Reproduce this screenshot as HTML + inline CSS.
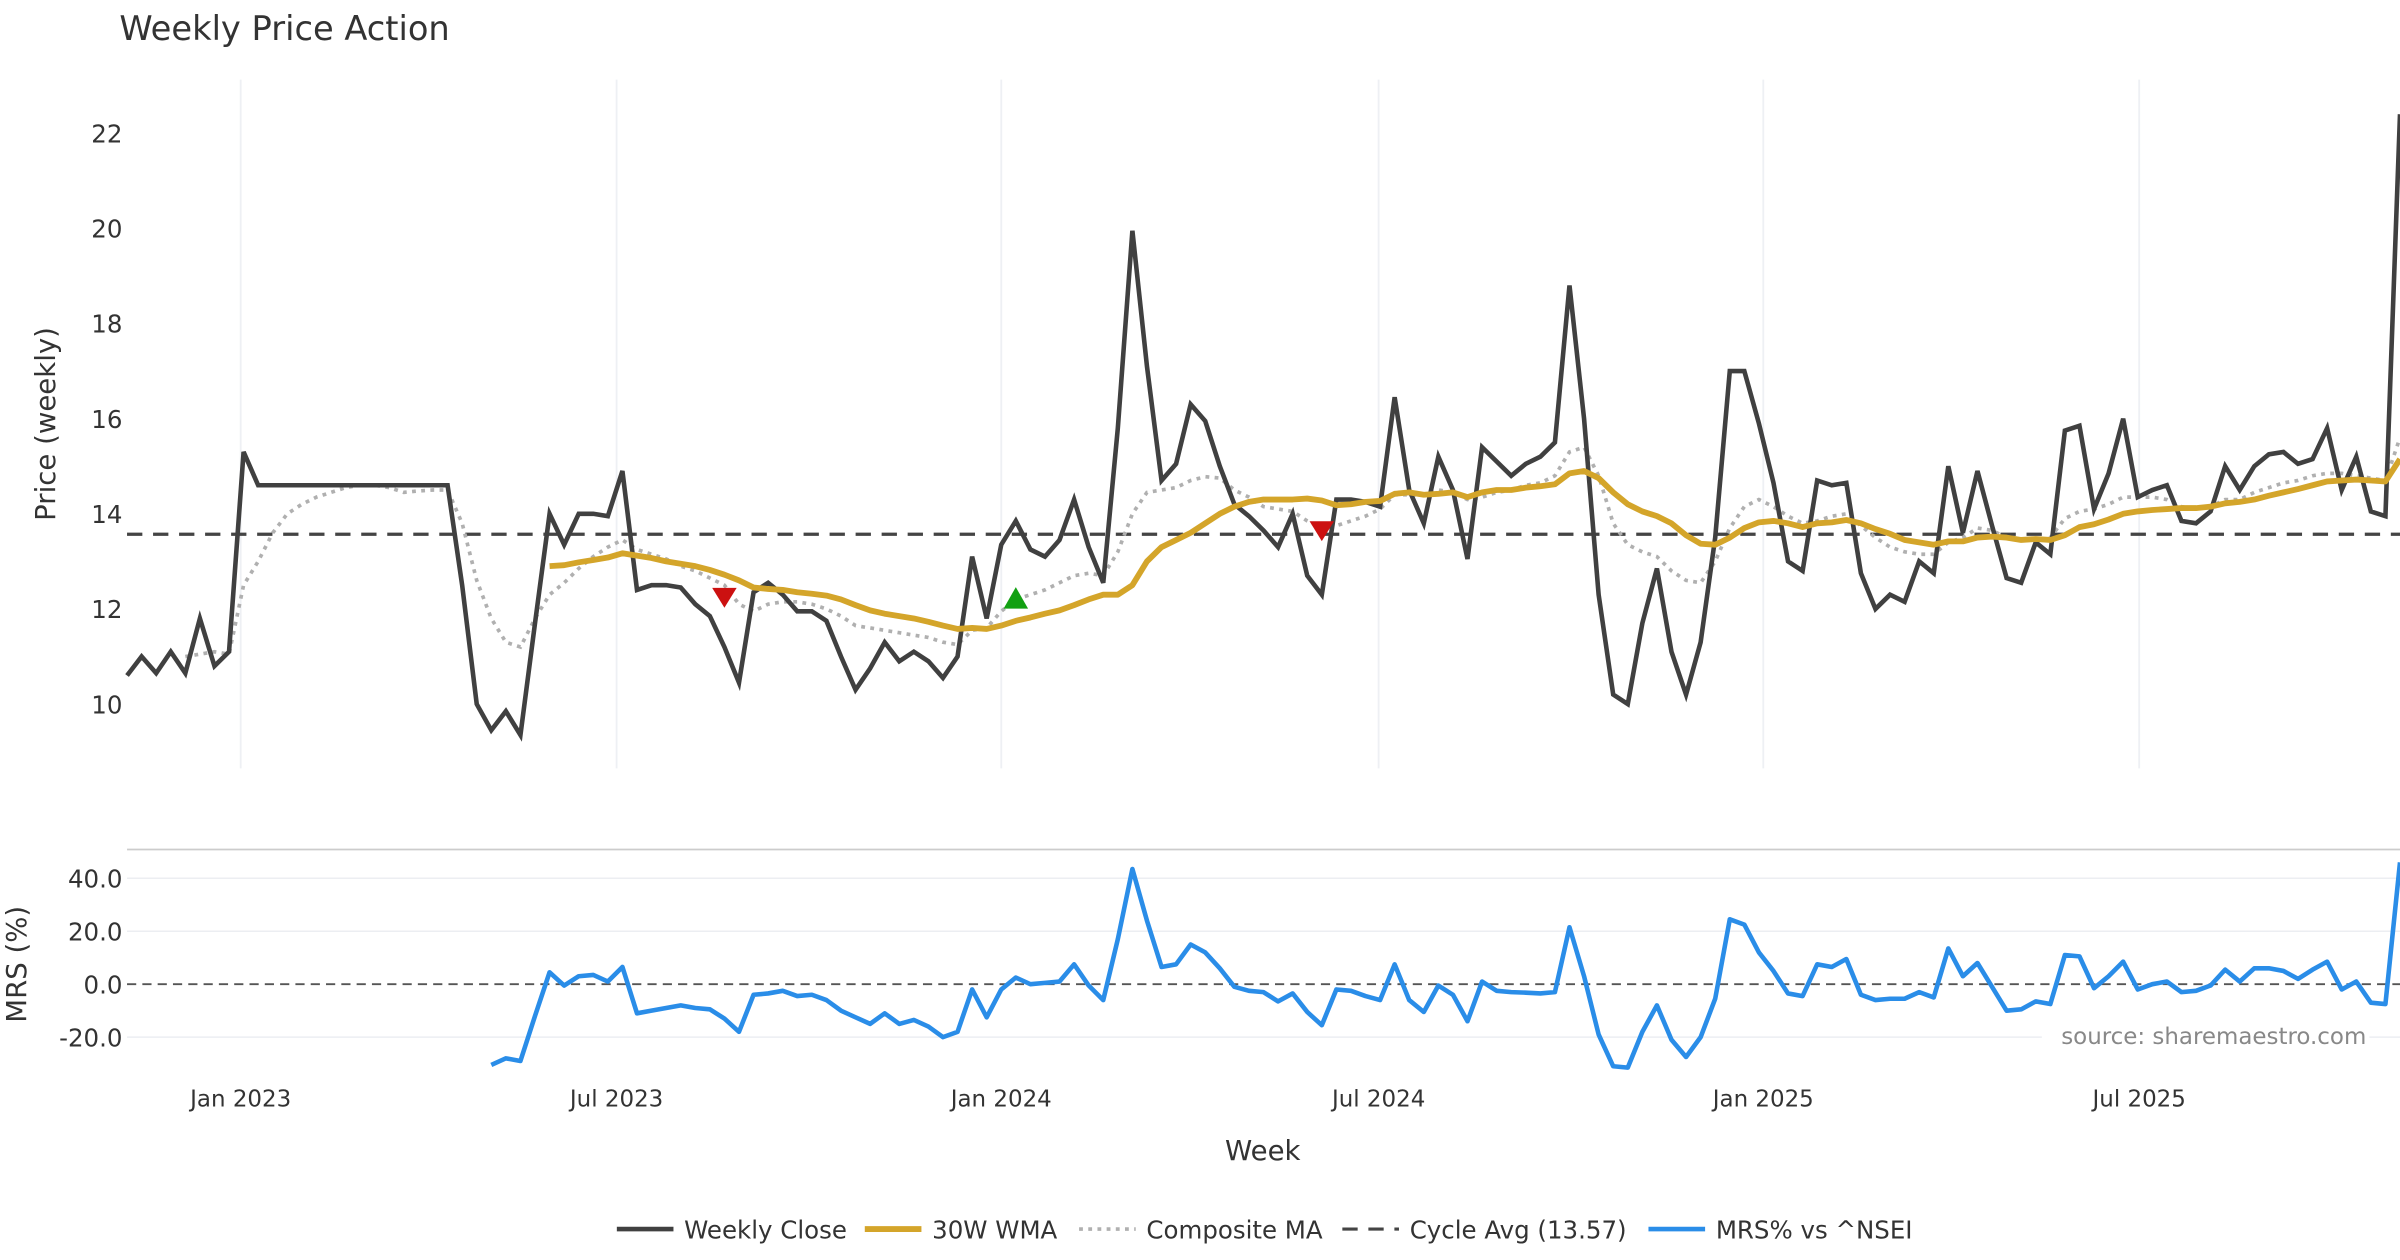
<!DOCTYPE html>
<html><head><meta charset="utf-8"><style>
html,body{margin:0;padding:0;background:#fff;}
svg{display:block;font-family:"DejaVu Sans","Liberation Sans",sans-serif;}
</style></head><body>
<svg id="chart" width="2400" height="1260" viewBox="0 0 1568 823.2" xmlns="http://www.w3.org/2000/svg">
<rect width="1568" height="823.2" fill="#fff"/>
<text x="78" y="26" font-size="22" fill="#333">Weekly Price Action</text>
<text transform="translate(36,277) rotate(-90)" text-anchor="middle" font-size="18" fill="#333">Price (weekly)</text>
<text transform="translate(17,630) rotate(-90)" text-anchor="middle" font-size="18" fill="#333">MRS (%)</text>
<text x="825" y="758" text-anchor="middle" font-size="18" fill="#333">Week</text>
<g id="grid"></g><g id="main"></g><g id="mrs"></g><g id="legend"></g>
<rect x="1334" y="666" width="214" height="20" fill="#fff"/>
<text x="1546" y="682" text-anchor="end" font-size="15" fill="#888">source: sharemaestro.com</text>
</svg>
<script>
const closeVals=[10.6,11.0,10.65,11.1,10.65,11.8,10.8,11.1,15.3,14.6,14.6,14.6,14.6,14.6,14.6,14.6,14.6,14.6,14.6,14.6,14.6,14.6,14.6,12.5,10.0,9.45,9.85,9.35,11.7,14.0,13.35,14.0,14.0,13.95,14.9,12.4,12.5,12.5,12.45,12.1,11.85,11.2,10.45,12.35,12.55,12.3,11.95,11.95,11.75,11.0,10.3,10.75,11.3,10.9,11.1,10.9,10.55,11.0,13.1,11.8,13.35,13.85,13.25,13.1,13.45,14.3,13.3,12.55,15.8,19.95,17.1,14.7,15.05,16.3,15.95,15.0,14.2,13.95,13.65,13.3,14.0,12.7,12.3,14.3,14.3,14.25,14.15,16.45,14.5,13.8,15.2,14.5,13.05,15.4,15.1,14.8,15.05,15.2,15.5,18.8,16.0,12.3,10.2,10.0,11.7,12.85,11.1,10.2,11.3,13.5,17.0,17.0,15.9,14.65,13.0,12.8,14.7,14.6,14.65,12.75,12.0,12.3,12.15,13.0,12.75,15.0,13.6,14.9,13.75,12.65,12.55,13.4,13.15,15.75,15.85,14.1,14.85,16.0,14.35,14.5,14.6,13.85,13.8,14.05,15.0,14.5,15.0,15.25,15.3,15.05,15.15,15.8,14.5,15.2,14.05,13.95,22.4];
const wmaStart=29;
const wmaVals=[12.9,12.92,12.98,13.03,13.08,13.17,13.12,13.07,13.0,12.95,12.9,12.82,12.72,12.6,12.45,12.42,12.4,12.35,12.32,12.28,12.2,12.08,11.97,11.9,11.85,11.8,11.73,11.65,11.58,11.6,11.58,11.65,11.75,11.82,11.9,11.97,12.08,12.2,12.3,12.3,12.5,13.0,13.3,13.45,13.6,13.8,14.0,14.15,14.25,14.3,14.3,14.3,14.32,14.28,14.18,14.2,14.25,14.27,14.42,14.45,14.4,14.42,14.45,14.35,14.45,14.5,14.5,14.55,14.58,14.62,14.85,14.9,14.75,14.45,14.2,14.05,13.95,13.8,13.55,13.37,13.35,13.5,13.7,13.82,13.85,13.8,13.72,13.8,13.82,13.87,13.8,13.68,13.58,13.45,13.4,13.35,13.42,13.42,13.5,13.52,13.5,13.45,13.47,13.45,13.55,13.72,13.78,13.88,14.0,14.05,14.08,14.1,14.12,14.12,14.15,14.22,14.25,14.3,14.38,14.45,14.52,14.6,14.68,14.7,14.72,14.7,14.68,15.15];
const compStart=4;
const compVals=[11.0,11.05,11.1,11.05,12.5,13.0,13.6,14.0,14.2,14.35,14.45,14.55,14.6,14.6,14.55,14.45,14.48,14.5,14.5,13.8,12.6,11.8,11.3,11.2,11.8,12.3,12.55,12.85,13.1,13.3,13.45,13.25,13.15,13.05,12.9,12.8,12.65,12.5,12.1,11.95,12.1,12.15,12.15,12.1,12.0,11.85,11.65,11.6,11.55,11.5,11.45,11.4,11.3,11.25,11.55,11.6,11.95,12.2,12.3,12.4,12.55,12.7,12.75,12.7,13.2,14.0,14.45,14.5,14.55,14.7,14.78,14.75,14.5,14.35,14.15,14.1,14.05,13.85,13.7,13.75,13.85,13.95,14.1,14.4,14.4,14.4,14.5,14.45,14.3,14.35,14.45,14.5,14.6,14.65,14.8,15.3,15.4,14.8,13.8,13.35,13.2,13.1,12.8,12.6,12.55,13.0,13.7,14.15,14.3,14.15,13.95,13.8,13.85,13.95,14.0,13.75,13.5,13.3,13.2,13.15,13.15,13.4,13.5,13.7,13.65,13.5,13.45,13.45,13.5,13.9,14.05,14.1,14.2,14.35,14.35,14.35,14.3,14.15,14.1,14.15,14.3,14.3,14.45,14.55,14.65,14.7,14.8,14.85,14.85,14.8,14.75,14.7,15.6];
const mrsStart=25;
const mrsVals=[-30.5,-28,-29,-12,4.5,-0.5,3,3.5,1,6.5,-11,-10,-9,-8,-9,-9.5,-13,-18,-4,-3.5,-2.5,-4.5,-4,-6,-10,-12.5,-15,-11,-15,-13.5,-16,-20,-18,-2,-12.5,-2,2.5,0,0.5,1,7.5,-0.5,-6,17,43.5,24,6.5,7.5,15,12,6,-1,-2.5,-3,-6.5,-3.5,-10.5,-15.5,-2,-2.5,-4.5,-6,7.5,-6,-10.5,-0.5,-4,-14,1,-2.5,-3,-3.2,-3.5,-3,21.5,3,-19,-31,-31.5,-18,-8,-21,-27.5,-20,-5.5,24.5,22.5,12,5,-3.5,-4.5,7.5,6.5,9.5,-4,-6,-5.5,-5.5,-3,-5,13.5,3,8,-1,-10,-9.5,-6.5,-7.5,11,10.5,-1.5,3,8.5,-2,0,1,-3,-2.5,-0.5,5.5,1,6,6,5,2,5.5,8.5,-2,1,-7,-7.5,46];
const cycleAvg=13.57;
const signalIdx=[41,61,82];
const signalVals=[12.25,12.2,13.65];
const signalType=["sell","buy","sell"];
const priceTicks=[10,12,14,16,18,20,22];
const mrsTicks=[40,20,0,-20];
const xTickWeeks=[7.8,33.6,60.0,85.9,112.3,138.1];
const xTickLabels=["Jan 2023","Jul 2023","Jan 2024","Jul 2024","Jan 2025","Jul 2025"];

const NS="http://www.w3.org/2000/svg";
const X0=83,X1=1568,NW=closeVals.length-1;
const xs=i=>X0+(X1-X0)*i/NW;
const yp=v=>460-(v-10)*31.08;
const ym=v=>643-v*1.73;
function mk(tag,attrs,parent){const e=document.createElementNS(NS,tag);for(const k in attrs)e.setAttribute(k,attrs[k]);parent.appendChild(e);return e;}
const G=document.getElementById('grid'),M=document.getElementById('main'),R=document.getElementById('mrs'),L=document.getElementById('legend');

xTickWeeks.forEach((w,k)=>{
  const x=xs(w);
  const g=mk('line',{x1:x,x2:x,y1:52,y2:502,stroke:'#eef0f4','stroke-width':1.2},G);
  
  
  const t=mk('text',{x:x,y:723,'text-anchor':'middle','font-size':15,fill:'#333'},G);
  t.textContent=xTickLabels[k];
  
  
});
priceTicks.forEach(v=>{
  const t=mk('text',{x:80,y:yp(v)+6,'text-anchor':'end','font-size':16,fill:'#333'},G);
  t.textContent=v;
  
  
});
const panelTop=mk('line',{x1:83,x2:1568,y1:555,y2:555,stroke:'#ccc','stroke-width':1.2},G);


mrsTicks.forEach(v=>{
  if(v!==0){const l=mk('line',{x1:83,x2:1568,y1:ym(v),y2:ym(v),stroke:'#eceef2','stroke-width':1},G);
  
  }
  const t=mk('text',{x:80,y:ym(v)+6,'text-anchor':'end','font-size':16,fill:'#333'},G);
  t.textContent=v.toFixed(1);
  
  
});
const zl=mk('line',{x1:83,x2:1568,y1:ym(0),y2:ym(0),stroke:'#555','stroke-width':1.3,'stroke-dasharray':'6,4'},G);



function pathOf(vals,start,yf){return vals.map((v,k)=>(k?'L':'M')+xs(start+k).toFixed(2)+','+yf(v).toFixed(2)).join(' ');}
const cyc=mk('line',{x1:83,x2:1568,y1:yp(cycleAvg),y2:yp(cycleAvg),stroke:'#444','stroke-width':2.2,'stroke-dasharray':'10,7'},M);


const comp=mk('path',{d:pathOf(compVals,compStart,yp),fill:'none',stroke:'#b0b0b0','stroke-width':2.4,'stroke-dasharray':'2.5,3.5'},M);


const cl=mk('path',{d:pathOf(closeVals,0,yp),fill:'none',stroke:'#404040','stroke-width':3,'stroke-linejoin':'miter'},M);


const wm=mk('path',{d:pathOf(wmaVals,wmaStart,yp),fill:'none',stroke:'#d4a52a','stroke-width':3.8,'stroke-linejoin':'round'},M);


signalIdx.forEach((i,k)=>{
  const x=xs(i),y=yp(signalVals[k]);
  const d=signalType[k]==='buy'?`M${x-8},${y+6} L${x+8},${y+6} L${x},${y-8} Z`:`M${x-8},${y-6} L${x+8},${y-6} L${x},${y+7} Z`;
  const p=mk('path',{d:d,fill:signalType[k]==='buy'?'#12a012':'#cc1111'},M);
  
  
});
const mr=mk('path',{d:pathOf(mrsVals,mrsStart,ym),fill:'none',stroke:'#2a8de8','stroke-width':3,'stroke-linejoin':'round'},R);



const leg=[["Weekly Close",403,'#404040',3,''],["30W WMA",565,'#d4a52a',3.8,''],["Composite MA",705,'#b0b0b0',2.4,'2.5,3.5'],["Cycle Avg (13.57)",877,'#444',2,'10,7'],["MRS% vs ^NSEI",1077,'#2a8de8',3,'']];
leg.forEach(e=>{
  const g=mk('g',{},L);
  
  
  const a={x1:e[1],x2:e[1]+37,y1:803,y2:803,stroke:e[2],'stroke-width':e[3]};
  if(e[4])a['stroke-dasharray']=e[4];
  mk('line',a,g);
  const t=mk('text',{x:e[1]+44,y:809,'font-size':16,fill:'#333'},g);
  t.textContent=e[0];
});
</script>
</body></html>
